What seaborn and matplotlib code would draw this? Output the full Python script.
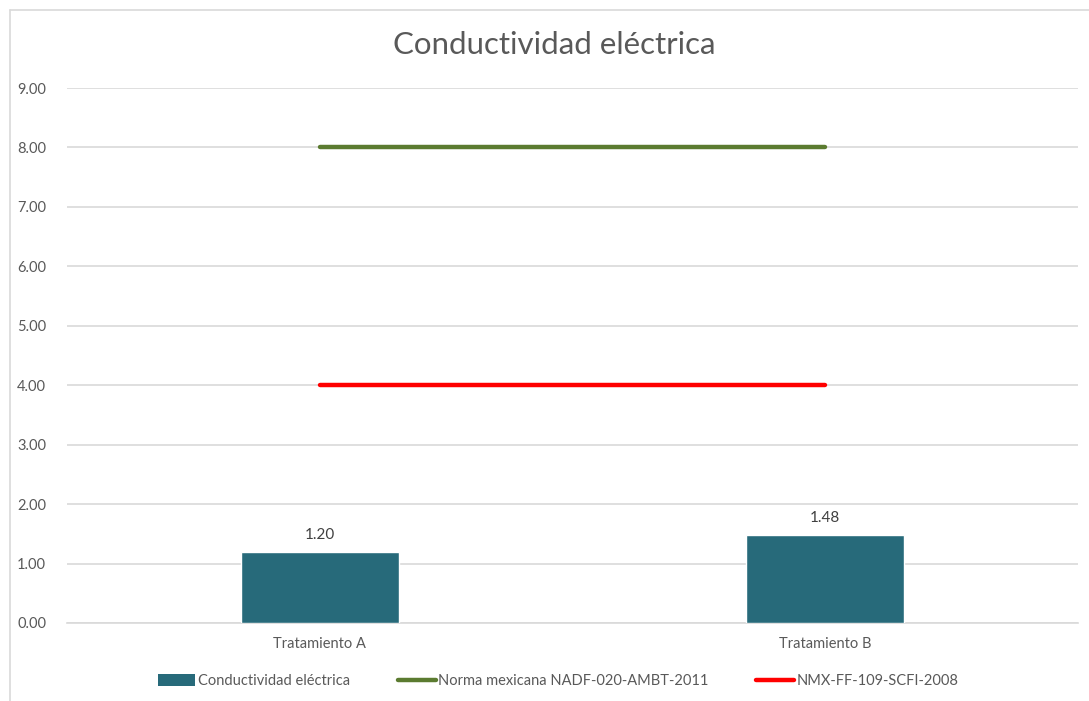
import matplotlib
matplotlib.use("Agg")
import matplotlib.pyplot as plt
from matplotlib.lines import Line2D
from matplotlib.patches import Patch
import seaborn as sns
import pandas as pd

# Data
categorias = ["Tratamiento A", "Tratamiento B"]
conductividad = [1.20, 1.48]
norma_nadf = [8.00, 8.00]
norma_nmx = [4.00, 4.00]
ticks_y = [0, 1, 2, 3, 4, 5, 6, 7, 8, 9]

titulo = "Conductividad eléctrica"
serie_barras = "Conductividad eléctrica"
serie_nadf = "Norma mexicana NADF-020-AMBT-2011"
serie_nmx = "NMX-FF-109-SCFI-2008"

color_barra = "#276A7A"
color_nadf = "#5B7B30"
color_nmx = "#FF0000"
color_texto = "#595959"
color_grid = "#D9D9D9"

sns.set_theme(style="white")
plt.rcParams["font.family"] = ["Lato", "DejaVu Sans"]

df = pd.DataFrame({"categoria": categorias, "valor": conductividad})

fig = plt.figure(figsize=(10.89, 7.01), dpi=100)
ax = fig.add_axes([67 / 1089, 1 - 623 / 701, (1078 - 67) / 1089, (623 - 88) / 701])

sns.barplot(data=df, x="categoria", y="valor", color=color_barra,
            width=0.312, saturation=1, ax=ax, zorder=3)

x_pos = list(range(len(categorias)))
sns.lineplot(x=x_pos, y=norma_nadf, color=color_nadf, linewidth=3.2, ax=ax, zorder=4)
sns.lineplot(x=x_pos, y=norma_nmx, color=color_nmx, linewidth=3.2, ax=ax, zorder=4)

# Value labels above bars
for xi, v in zip(x_pos, conductividad):
    ax.text(xi, v + 0.17, f"{v:.2f}", ha="center", va="bottom",
            fontsize=11, color="#404040")

ax.set_xlim(-0.5, len(categorias) - 0.5)
ax.set_ylim(0, 9)
ax.set_yticks(ticks_y)
ax.set_yticklabels([f"{t:.2f}" for t in ticks_y])
ax.yaxis.grid(True, color=color_grid, linewidth=1.2, zorder=0)
ax.set_axisbelow(True)
for s in ax.spines.values():
    s.set_visible(False)
ax.spines["bottom"].set_visible(True)
ax.spines["bottom"].set_color(color_grid)
ax.spines["bottom"].set_linewidth(1.2)
ax.tick_params(axis="both", length=0, labelsize=10.5, colors=color_texto)
ax.tick_params(axis="y", pad=15)
ax.tick_params(axis="x", pad=10)
ax.set_xlabel("")
ax.set_ylabel("")

fig.text(554 / 1089, 1 - 45 / 701, titulo, ha="center", va="center",
         fontsize=22.5, color=color_texto)

handles = [
    Patch(facecolor=color_barra, edgecolor="none", label=serie_barras),
    Line2D([0], [0], color=color_nadf, linewidth=3.2, label=serie_nadf),
    Line2D([0], [0], color=color_nmx, linewidth=3.2, label=serie_nmx),
]
fig.legend(handles=handles, loc="center", bbox_to_anchor=(558 / 1089, 1 - 681 / 701),
           ncol=3, frameon=False, fontsize=10.5, handlelength=2.6, handleheight=0.9,
           handletextpad=0.15, columnspacing=3.3, labelcolor=color_texto)

# Chart frame (top and left edges)
fig.add_artist(Line2D([10 / 1089, 1.0], [1 - 10 / 701, 1 - 10 / 701],
                      color="#D9D9D9", linewidth=1.2, transform=fig.transFigure))
fig.add_artist(Line2D([10 / 1089, 10 / 1089], [0, 1 - 10 / 701],
                      color="#D9D9D9", linewidth=1.2, transform=fig.transFigure))

fig.savefig("out.png", dpi=100, facecolor="white")
